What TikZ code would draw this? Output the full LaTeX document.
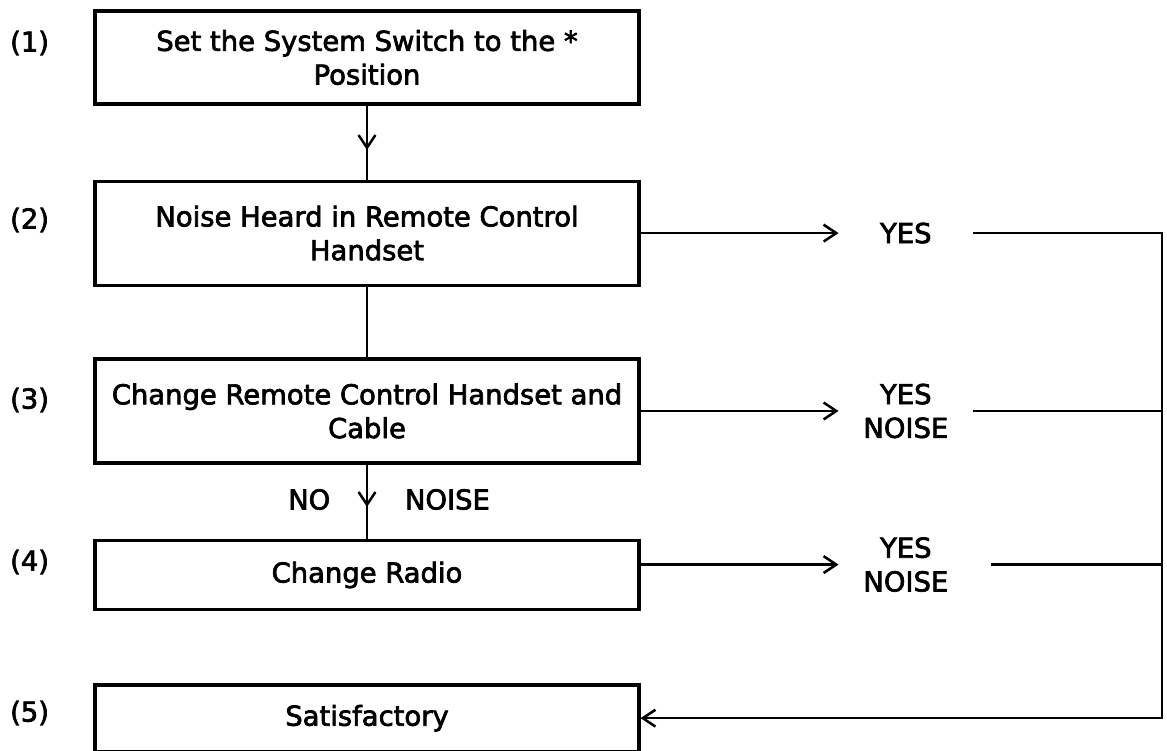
\documentclass[tikz,border=0pt]{standalone}
\usepackage{fontspec}
\setmainfont{DejaVu Sans}[FakeBold=2.5]
\usepackage{tikz}
\usetikzlibrary{arrows.meta,positioning,calc,decorations.markings}
\newcommand{\boxfont}{\fontsize{19.5}{24}\selectfont}

\begin{document}
\begin{tikzpicture}[
  box/.style={rectangle, draw, line width=2.2pt, minimum width=13.6cm,
              align=center, inner sep=2pt, font=\boxfont},
  num/.style={font=\boxfont},
  ans/.style={minimum width=3.35cm, inner sep=0pt, align=center, font=\boxfont},
  conn/.style={line width=1.8pt},
  arr/.style={conn, -{Straight Barb[length=9pt, width=12pt, line width=1.8pt]}},
  midarr/.style={conn, postaction={decorate},
                 decoration={markings, mark=at position #1 with
                   {\arrow{Straight Barb[length=9pt, width=12pt, line width=1.8pt]}}}}
]
  \useasboundingbox (0,0) rectangle (29.175,-18.775);

  \node[box, minimum height=2.325cm](switch) at (9.175,-1.4375)
       {Set the System Switch to the *\\Position};
  \node[box, minimum height=2.6cm, below=1.85cm of switch](heard)
       {Noise Heard in Remote Control\\Handset};
  \node[box, minimum height=2.6cm, below=1.77cm of heard](change)
       {Change Remote Control Handset and\\Cable};
  \node[box, minimum height=1.725cm, below=1.86cm of change](radio){Change Radio};
  \node[box, minimum height=1.66cm, below=1.81cm of radio](ok){Satisfactory};

  \node[num](n1) at (0.74,-1.075){(1)};
  \node[num](n2) at (0.74,-5.5){(2)};
  \node[num](n3) at (0.74,-10.0){(3)};
  \node[num](n4) at (0.74,-14.05){(4)};
  \node[num](n5) at (0.74,-17.825){(5)};

  \node[ans, right=4.95cm of heard](yes2){YES};
  \node[ans, right=4.95cm of change](yes3){YES\\NOISE};
  \node[ans, right=4.95cm of radio, yshift=0.26cm](yes4){YES\\NOISE};
  \coordinate (rt) at (29.05,0);

  \draw[midarr=0.6](switch)--(heard);
  \draw[conn](heard)--(change);
  \draw[midarr=0.57](change)--
      node[pos=0.47, left=0.77cm, num]{NO}
      node[pos=0.47, right=0.8cm, num]{NOISE}(radio);

  \draw[arr](heard)--(yes2);
  \draw[arr](change)--(yes3);
  \draw[arr](radio.east |- yes4.west)--(yes4.west);
  \draw[arr](yes2)-|(rt |- ok.east)--(ok);
  \draw[conn](yes3)--(yes3 -| rt);
  \draw[conn]([xshift=0.45cm]yes4.east)--(yes4 -| rt);
\end{tikzpicture}
\end{document}
